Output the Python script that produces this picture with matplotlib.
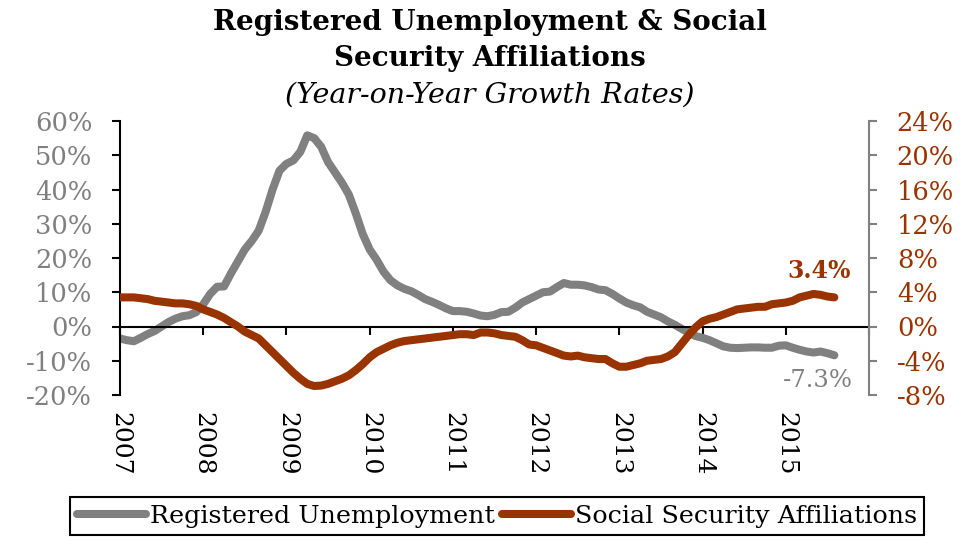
import matplotlib
matplotlib.use("Agg")
import matplotlib.pyplot as plt
from matplotlib.lines import Line2D

plt.rcParams['font.family'] = ['DejaVu Serif']

# Monthly data, Jan 2007 .. Aug 2015 (month index 0 = Jan 2007)
unemployment = [
    -3.5, -4.0, -4.3, -3.3, -2.2, -1.3, 0.0, 1.3, 2.3, 3.0, 3.3, 4.2,
    6.5, 9.5, 11.6, 11.7, 15.5, 19.0, 22.5, 25.0, 28.0, 33.5, 40.0, 45.5,
    47.5, 48.5, 51.0, 55.8, 55.0, 52.5, 48.0, 45.0, 42.0, 38.5, 33.0, 27.0,
    22.5, 19.5, 16.0, 13.5, 12.0, 11.0, 10.3, 9.2, 8.0, 7.2, 6.3, 5.3,
    4.5, 4.5, 4.3, 3.8, 3.2, 3.0, 3.4, 4.2, 4.3, 5.5, 7.0, 8.0,
    9.0, 10.0, 10.2, 11.5, 12.7, 12.2, 12.2, 12.0, 11.5, 10.8, 10.6, 9.5,
    8.2, 7.0, 6.2, 5.6, 4.3, 3.5, 2.7, 1.5, 0.5, -0.7, -1.8, -2.8,
    -3.3, -4.0, -4.9, -5.8, -6.2, -6.3, -6.2, -6.1, -6.1, -6.2, -6.2, -5.6,
    -5.5, -6.2, -6.8, -7.3, -7.6, -7.3, -7.8, -8.4,
]
affiliations = [
    3.4, 3.4, 3.4, 3.3, 3.2, 3.0, 2.9, 2.8, 2.7, 2.7, 2.6, 2.4,
    2.0, 1.7, 1.4, 1.0, 0.5, 0.0, -0.6, -1.0, -1.4, -2.2, -3.0, -3.8,
    -4.6, -5.4, -6.1, -6.7, -6.95, -6.9, -6.7, -6.4, -6.1, -5.7, -5.1, -4.4,
    -3.6, -3.0, -2.6, -2.2, -1.9, -1.7, -1.6, -1.5, -1.4, -1.3, -1.2, -1.1,
    -1.0, -0.9, -0.9, -1.0, -0.7, -0.7, -0.8, -1.0, -1.1, -1.2, -1.6, -2.1,
    -2.2, -2.5, -2.8, -3.1, -3.4, -3.5, -3.4, -3.6, -3.7, -3.8, -3.8, -4.3,
    -4.7, -4.7, -4.5, -4.3, -4.0, -3.9, -3.8, -3.5, -3.0, -2.0, -1.0, -0.1,
    0.6, 0.9, 1.1, 1.4, 1.7, 2.0, 2.1, 2.2, 2.3, 2.3, 2.6, 2.7,
    2.8, 3.0, 3.4, 3.6, 3.8, 3.7, 3.5, 3.4,
]
year_labels = ['2007', '2008', '2009', '2010', '2011', '2012', '2013', '2014', '2015']
left_ticks = [-20, -10, 0, 10, 20, 30, 40, 50, 60]
right_ticks = [-8, -4, 0, 4, 8, 12, 16, 20, 24]
label_unemp = 'Registered Unemployment'
label_affil = 'Social Security Affiliations'
last_unemp_text = '-7.3%'
last_affil_text = '3.4%'

GRAY = '#808080'
ORANGE = '#993300'

months = list(range(len(unemployment)))

fig = plt.figure(figsize=(9.75, 5.48), dpi=100)
ax = fig.add_axes([120/975, 1-395/548, (869-120)/975, (395-121)/548])
ax2 = ax.twinx()

lw = 5.8
ax.plot(months, unemployment, color=GRAY, lw=lw, solid_capstyle='round', solid_joinstyle='round')
ax2.plot(months, affiliations, color=ORANGE, lw=lw, solid_capstyle='round', solid_joinstyle='round')

ax.set_xlim(0, 108)
ax.set_ylim(-20, 60)
ax2.set_ylim(-8, 24)

ax.set_yticks(left_ticks)
ax.set_yticklabels([f'{t}%' for t in left_ticks])
ax2.set_yticks(right_ticks)
ax2.set_yticklabels([f'{t}%' for t in right_ticks])

TICK_FS = 18.5
ax.tick_params(axis='y', direction='out', length=6, width=1.5, colors='black',
               labelcolor=GRAY, labelsize=TICK_FS, pad=14)
ax2.tick_params(axis='y', direction='out', length=6, width=1.5, colors=GRAY,
                labelcolor=ORANGE, labelsize=TICK_FS, pad=14)

for s in ['top', 'right']:
    ax.spines[s].set_visible(False)
for s in ['top', 'left', 'bottom']:
    ax2.spines[s].set_visible(False)
ax.spines['left'].set_linewidth(1.5)
ax2.spines['right'].set_linewidth(1.5)
ax2.spines['right'].set_color(GRAY)

ax.spines['bottom'].set_position(('data', 0))
ax.spines['bottom'].set_linewidth(1.5)
ax.set_xticks(list(range(0, 109, 12)))
ax.tick_params(axis='x', direction='out', length=6, width=1.5, labelbottom=False)

sec = ax.secondary_xaxis('bottom')
sec.set_xticks([12*i for i in range(len(year_labels))])
sec.set_xticklabels(year_labels, rotation=-90)
sec.tick_params(axis='x', length=0, labelsize=18, pad=12)
sec.spines['bottom'].set_visible(False)

ax2.annotate(last_affil_text, xy=(months[-1], affiliations[-1]), xytext=(-11, 19),
             textcoords='offset points', ha='center', va='center',
             color=ORANGE, fontsize=17, fontweight='bold')
ax.annotate(last_unemp_text, xy=(months[-1], unemployment[-1]), xytext=(-12, -18),
            textcoords='offset points', ha='center', va='center',
            color=GRAY, fontsize=17.5)

fig.text(490/975, 1-23/548, 'Registered Unemployment & Social', ha='center', va='center',
         fontsize=20, fontweight='bold')
fig.text(490/975, 1-58/548, 'Security Affiliations', ha='center', va='center',
         fontsize=20, fontweight='bold')
fig.text(490/975, 1-95/548, '(Year-on-Year Growth Rates)', ha='center', va='center',
         fontsize=20.5, fontstyle='italic')

handles = [Line2D([], [], color=GRAY, lw=lw, solid_capstyle='round'),
           Line2D([], [], color=ORANGE, lw=lw, solid_capstyle='round')]
leg = fig.legend(handles, [label_unemp, label_affil], loc='upper center',
                 bbox_to_anchor=(497/975, 1-497/548), ncol=2, fontsize=18.3,
                 frameon=True, fancybox=False, edgecolor='black', framealpha=1,
                 handlelength=2.7, handletextpad=0.15, columnspacing=0.3,
                 borderpad=0.3, borderaxespad=0)
leg.get_frame().set_linewidth(1.5)

fig.savefig('out.png', dpi=100)
